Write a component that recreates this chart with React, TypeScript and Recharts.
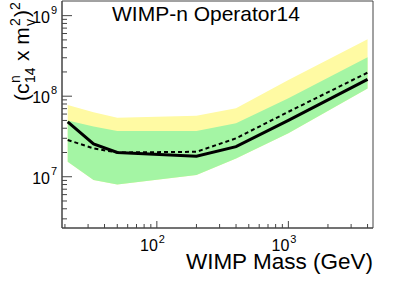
import {
  ComposedChart,
  Area,
  Line,
  XAxis,
  YAxis,
  ReferenceArea,
} from 'recharts';

const masses = [21, 33, 50, 200, 400, 1000, 4000];
const observed = [4.8e7, 2.55e7, 2.0e7, 1.8e7, 2.36e7, 5.0e7, 1.62e8];
const expected = [2.86e7, 2.25e7, 2.0e7, 2.04e7, 3.0e7, 6.4e7, 1.96e8];
const oneSigmaLow = [1.54e7, 9.1e6, 8.0e6, 1.05e7, 1.69e7, 3.46e7, 1.25e8];
const oneSigmaHigh = [5.0e7, 4.2e7, 3.7e7, 3.7e7, 4.6e7, 9.4e7, 3.04e8];
const twoSigmaHigh = [7.8e7, 6.3e7, 5.4e7, 5.7e7, 7.1e7, 1.59e8, 5.1e8];

const xTicks = [20, 30, 40, 50, 60, 70, 80, 90, 100, 200, 300, 400, 500, 600, 700, 800, 900, 1000, 2000, 3000, 4000];
const yTicks = [
  3e6, 4e6, 5e6, 6e6, 7e6, 8e6, 9e6, 1e7,
  2e7, 3e7, 4e7, 5e7, 6e7, 7e7, 8e7, 9e7, 1e8,
  2e8, 3e8, 4e8, 5e8, 6e8, 7e8, 8e8, 9e8, 1e9,
];

const X_DOMAIN = [19, 4400];
const Y_DOMAIN = [2.31e6, 1.52e9];
const AXIS = '#444';
const FONT = 'Liberation Sans, Arial, sans-serif';

const data = masses.map((m, i) => ({
  mass: m,
  obs: observed[i],
  exp: expected[i],
  green: [oneSigmaLow[i], oneSigmaHigh[i]],
  yellow: [oneSigmaLow[i], twoSigmaHigh[i]],
}));

const isDecade = (v: number) => {
  const l = Math.log10(v);
  return Math.abs(l - Math.round(l)) < 1e-6;
};

const XTick = (props: any) => {
  const { x, y, payload } = props;
  const v = payload.value;
  const major = isDecade(v);
  return (
    <g>
      <line x1={x} x2={x} y1={y} y2={y - (major ? 7 : 4)} stroke={AXIS} strokeWidth={1} />
      {major && (
        <text fontFamily={FONT} fill="#000">
          <tspan x={x + 1} y={y + 23} fontSize={16} textAnchor="end">10</tspan>
          <tspan x={x + 2} y={y + 15} fontSize={11} textAnchor="start">{Math.round(Math.log10(v))}</tspan>
        </text>
      )}
    </g>
  );
};

const YTick = (props: any) => {
  const { x, y, payload } = props;
  const v = payload.value;
  const major = isDecade(v);
  return (
    <g>
      <line x1={x} x2={x + (major ? 10 : 5)} y1={y} y2={y} stroke={AXIS} strokeWidth={1} />
      {major && (
        <text fontFamily={FONT} fill="#000">
          <tspan x={x - 12} y={y + 7} fontSize={16} textAnchor="end">10</tspan>
          <tspan x={x - 11} y={y - 2} fontSize={11} textAnchor="start">{Math.round(Math.log10(v))}</tspan>
        </text>
      )}
    </g>
  );
};

export default function App() {
  return (
    <div style={{ position: 'absolute', left: 0, top: 0, width: 415, height: 281, background: '#fff' }}>
      <ComposedChart
        width={415}
        height={281}
        data={data}
        margin={{ top: 1, right: 42, left: 61, bottom: 52 }}
      >
        <XAxis
          dataKey="mass"
          type="number"
          scale="log"
          domain={X_DOMAIN}
          allowDataOverflow
          ticks={xTicks}
          interval={0}
          height={1}
          tickSize={0}
          tickMargin={0}
          tickLine={false}
          axisLine={{ stroke: AXIS }}
          tick={<XTick />}
        />
        <YAxis
          type="number"
          scale="log"
          domain={Y_DOMAIN}
          allowDataOverflow
          ticks={yTicks}
          interval={0}
          width={1}
          tickSize={0}
          tickMargin={0}
          tickLine={false}
          axisLine={{ stroke: AXIS }}
          tick={<YTick />}
        />
        <Area
          dataKey="yellow"
          stroke="none"
          fill="#FFFAA3"
          fillOpacity={1}
          isAnimationActive={false}
        />
        <Area
          dataKey="green"
          stroke="none"
          fill="#A4F5A4"
          fillOpacity={1}
          isAnimationActive={false}
        />
        <Line
          dataKey="exp"
          stroke="#000"
          strokeWidth={2}
          strokeDasharray="4 3"
          dot={false}
          isAnimationActive={false}
        />
        <Line
          dataKey="obs"
          stroke="#000"
          strokeWidth={3}
          dot={false}
          isAnimationActive={false}
        />
        <ReferenceArea
          x1={X_DOMAIN[0]}
          x2={X_DOMAIN[1]}
          y1={Y_DOMAIN[0]}
          y2={Y_DOMAIN[1]}
          fill="none"
          stroke={AXIS}
          strokeWidth={1}
          ifOverflow="visible"
        />
      </ComposedChart>
      <svg width={415} height={281} style={{ position: 'absolute', left: 0, top: 0, pointerEvents: 'none' }}>
        <text x={112} y={21} fontFamily={FONT} fontSize={21} fill="#000">WIMP-n Operator14</text>
        <text x={373} y={269} fontFamily={FONT} fontSize={22.5} fill="#000" textAnchor="end">WIMP Mass (GeV)</text>
        <g transform="translate(29,101) rotate(-90)">
          <text fontFamily={FONT} fill="#000">
            <tspan x={0} y={0} fontSize={21}>(c</tspan>
            <tspan x={18} y={-9} fontSize={14}>n</tspan>
            <tspan x={18} y={6} fontSize={14}>14</tspan>
            <tspan x={40} y={0} fontSize={21}>x m</tspan>
            <tspan x={75} y={-9} fontSize={14}>2</tspan>
            <tspan x={75} y={6} fontSize={14}>v</tspan>
            <tspan x={84} y={0} fontSize={21}>)</tspan>
            <tspan x={91} y={-9} fontSize={14}>2</tspan>
          </text>
        </g>
      </svg>
    </div>
  );
}
